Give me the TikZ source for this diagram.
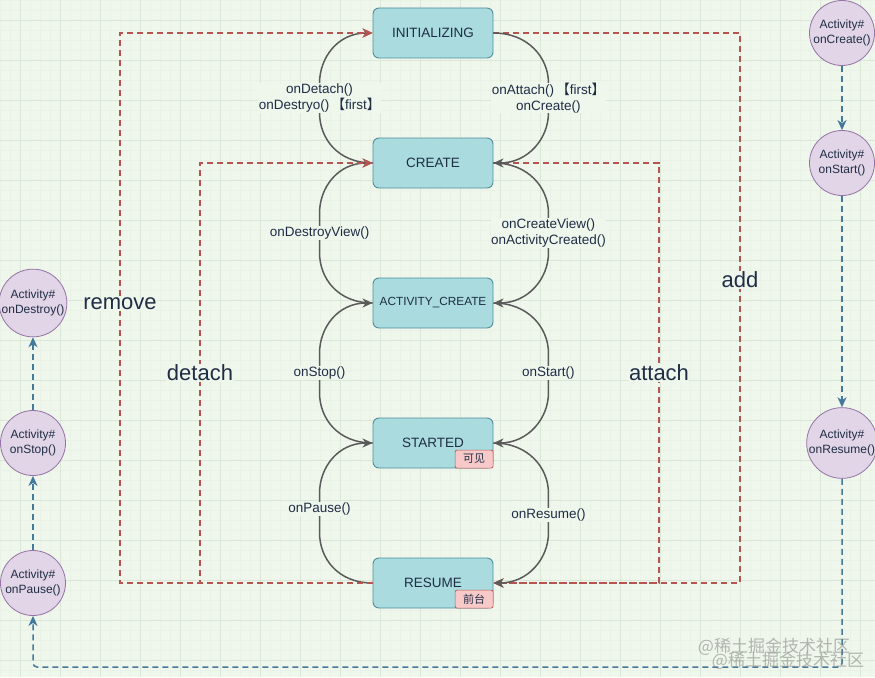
\documentclass[tikz,border=0pt]{standalone}
\usepackage{fontspec}
\setmainfont{Liberation Sans}
\newfontfamily\cjk{Noto Sans CJK SC}
\usetikzlibrary{arrows.meta,calc}
\definecolor{bgc}{HTML}{EFF6EC}
\definecolor{gmaj}{HTML}{DAE6D6}
\definecolor{gmin}{HTML}{EAF2E7}
\definecolor{statefill}{HTML}{A9DBDF}
\definecolor{stateline}{HTML}{4F8F9B}
\definecolor{txt}{HTML}{1F2D45}
\definecolor{badgefill}{HTML}{F8C9C9}
\definecolor{badgeline}{HTML}{B85450}
\definecolor{circfill}{HTML}{E1D5E7}
\definecolor{circline}{HTML}{9673A6}
\definecolor{flowc}{HTML}{5A5A5A}
\definecolor{redc}{HTML}{B85450}
\definecolor{bluec}{HTML}{45799C}
\begin{document}
\begin{tikzpicture}[x=1pt,y=-1pt,
  statebox/.style={draw=stateline, fill=statefill, rounded corners=6pt, line width=0.9pt,
    minimum width=120pt, minimum height=50pt, text=txt, font=\fontsize{13.5}{16}\selectfont},
  badgebox/.style={draw=badgeline, fill=badgefill, rounded corners=2pt, line width=0.7pt,
    minimum width=38pt, minimum height=18pt, inner sep=0pt, text=txt, font=\cjk\fontsize{11}{13}\selectfont},
  circnode/.style={circle, draw=circline, fill=circfill, line width=0.8pt, minimum size=65pt,
    inner sep=0pt, align=center, text=txt, font=\fontsize{12}{14.5}\selectfont},
  flow/.style={draw=flowc, line width=1.5pt, -{Stealth[length=10pt,width=9pt,inset=3pt]}},
  reddash/.style={draw=redc, line width=1.5pt, dash pattern=on 6pt off 4pt,
    -{Stealth[length=10pt,width=9pt,inset=3pt]}},
  bluedash/.style={draw=bluec, line width=1.5pt, dash pattern=on 6pt off 4pt,
    -{Stealth[length=10pt,width=9pt,inset=3pt]}},
  lbl/.style={fill=bgc, inner sep=0.5pt, align=center, text=txt, font=\fontsize{13.5}{15.5}\selectfont},
  biglbl/.style={fill=bgc, inner sep=0.5pt, text=txt, font=\fontsize{22}{26}\selectfont},
  wm/.style={text=gray, opacity=0.55, font=\cjk\fontsize{17}{20}\selectfont}
]
\useasboundingbox (0,0) rectangle (875,677);
\fill[bgc] (0,0) rectangle (875,677);
\foreach \x in {0,10,...,870} \draw[gmin, line width=0.5pt] (\x,0) -- (\x,677);
\foreach \y in {0,10,...,670} \draw[gmin, line width=0.5pt] (0,\y) -- (875,\y);
\foreach \x in {20,60,...,860} \draw[gmaj, line width=0.8pt] (\x,0) -- (\x,677);
\foreach \y in {20,60,...,660} \draw[gmaj, line width=0.8pt] (0,\y) -- (875,\y);

% state nodes
\node[statebox] (init) at (433,33) {INITIALIZING};
\node[statebox] (create) at (433,163) {CREATE};
\node[statebox, font=\fontsize{11.8}{14}\selectfont] (actc) at (433,303) {ACTIVITY\_CREATE};
\node[statebox] (started) at (433,443) {STARTED};
\node[statebox] (resume) at (433,583) {RESUME};
\node[badgebox, anchor=south east] (bvis) at (started.south east) {可见};
\node[badgebox, anchor=south east] (bfore) at (resume.south east) {前台};

% activity circles
\node[circnode] (aCreate) at (842,33) {Activity\#\\onCreate()};
\node[circnode] (aStart) at (842,163) {Activity\#\\onStart()};
\node[circnode] (aResume) at (842,443) {Activity\#\\onResume()};
\node[circnode] (aDestroy) at (33,303) {Activity\#\\onDestroy()};
\node[circnode] (aStop) at (33,443) {Activity\#\\onStop()};
\node[circnode] (aPause) at (33,583) {Activity\#\\onPause()};

% coordinates for dashed routes
\coordinate (rmB) at (120,583);
\coordinate (rmT) at (120,33);
\coordinate (dtB) at (200,583);
\coordinate (dtT) at (200,163);
\coordinate (adT) at (740,33);
\coordinate (adB) at (740,583);
\coordinate (atT) at (659,163);
\coordinate (atB) at (659,583);
\coordinate (blR) at (842,667);
\coordinate (blL) at (33,667);

% right red dashed (under gray)
\draw[reddash] (init.east) -- (adT) -- node[biglbl, pos=0.449] {add} (adB) -- (resume.east);
\draw[reddash] (create.east) -- (atT) -- node[biglbl, pos=0.5] {attach} (atB) -- (resume.east);

% left gray curves (going up)
\draw[flow] (create.west) .. controls +(-35,0) and +(0,25) .. ($(create.west)+(-53,-50)$)
  -- node[lbl] {onDetach()\\onDestryo()\,{\cjk 【}first{\cjk 】}} ($(init.west)+(-53,50)$)
  .. controls +(0,-25) and +(-35,0) .. (init.west);
\draw[flow] (actc.west) .. controls +(-35,0) and +(0,25) .. ($(actc.west)+(-53,-50)$)
  -- node[lbl] {onDestroyView()} ($(create.west)+(-53,50)$)
  .. controls +(0,-25) and +(-35,0) .. (create.west);
\draw[flow] (started.west) .. controls +(-35,0) and +(0,25) .. ($(started.west)+(-53,-50)$)
  -- node[lbl] {onStop()} ($(actc.west)+(-53,50)$)
  .. controls +(0,-25) and +(-35,0) .. (actc.west);
\draw[flow] (resume.west) .. controls +(-35,0) and +(0,25) .. ($(resume.west)+(-53,-50)$)
  -- node[lbl, pos=0.6] {onPause()} ($(started.west)+(-53,50)$)
  .. controls +(0,-25) and +(-35,0) .. (started.west);

% right gray curves (going down)
\draw[flow] (init.east) .. controls +(35,0) and +(0,-25) .. ($(init.east)+(55,50)$)
  -- node[lbl] {onAttach()\,{\cjk 【}first{\cjk 】}\\onCreate()} ($(create.east)+(55,-50)$)
  .. controls +(0,25) and +(35,0) .. (create.east);
\draw[flow] (create.east) .. controls +(35,0) and +(0,-25) .. ($(create.east)+(55,50)$)
  -- node[lbl] {onCreateView()\\onActivityCreated()} ($(actc.east)+(55,-50)$)
  .. controls +(0,25) and +(35,0) .. (actc.east);
\draw[flow] (actc.east) .. controls +(35,0) and +(0,-25) .. ($(actc.east)+(55,50)$)
  -- node[lbl] {onStart()} ($(started.east)+(55,-50)$)
  .. controls +(0,25) and +(35,0) .. (started.east);
\draw[flow] (started.east) .. controls +(35,0) and +(0,-25) .. ($(started.east)+(55,50)$)
  -- node[lbl, pos=0.55] {onResume()} ($(resume.east)+(55,-50)$)
  .. controls +(0,25) and +(35,0) .. (resume.east);

% left red dashed (over gray)
\draw[reddash] (resume.west) -- (rmB) -- node[biglbl, pos=0.507] {remove} (rmT) -- (init.west);
\draw[reddash] (resume.west) -- (dtB) -- node[biglbl, pos=0.5] {detach} (dtT) -- (create.west);

% blue activity flow
\draw[bluedash] (aCreate) -- (aStart);
\draw[bluedash] (aStart) -- (aResume);
\draw[bluedash, rounded corners=4pt] (aResume.south) -- (blR) -- (blL) -- (aPause.south);
\draw[bluedash] (aPause) -- (aStop);
\draw[bluedash] (aStop) -- (aDestroy);

% watermark (two overlapping copies, as in the reference)
\node[wm] (wm1) at (774,647) {@稀土掘金技术社区};
\node[wm] (wm2) at (788,661) {@稀土掘金技术社区};
\end{tikzpicture}
\end{document}
